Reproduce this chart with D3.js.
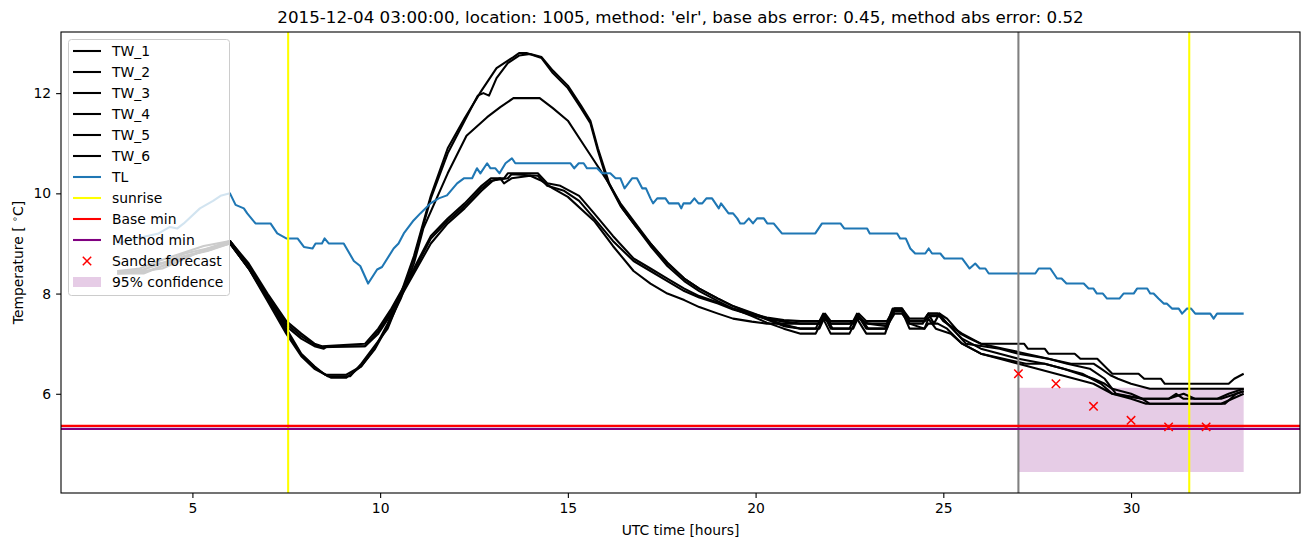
<!DOCTYPE html>
<html><head><meta charset="utf-8">
<script src="https://cdn.jsdelivr.net/npm/d3@7"></script>
<style>body{margin:0;background:#fff}svg{display:block;font-family:"DejaVu Sans",sans-serif}</style>
</head><body><svg id="c" width="1310" height="547"></svg>
<script>
const titleText = "2015-12-04 03:00:00, location: 1005, method: 'elr', base abs error: 0.45, method abs error: 0.52";
const xTicks = [5, 10, 15, 20, 25, 30];
const yTicks = [6, 8, 10, 12];
const seriesNames = ["TW_1","TW_2","TW_3","TW_4","TW_5","TW_6"];

const TW_1 = [[3.0,8.40],[3.7,8.42],[4.2,8.55],[4.8,8.75],[5.5,8.88],[6.0,9.05],[6.5,8.55],[7.0,7.95],[7.5,7.3],[7.9,6.8],[8.25,6.55],[8.5,6.40],[8.7,6.32],[9.1,6.32],[9.5,6.55],[9.85,6.9],[10.2,7.4],[10.55,8.0],[10.9,8.75],[11.35,9.95],[11.8,10.9],[12.25,11.5],[12.7,12.05],[13.1,12.5],[13.55,12.72],[13.7,12.8],[13.9,12.8],[14.3,12.7],[14.6,12.4],[15.0,12.1],[15.35,11.7],[15.6,11.4],[15.8,10.85],[16.05,10.25],[16.4,9.75],[16.75,9.4],[17.2,8.95],[17.65,8.55],[18.1,8.25],[18.5,8.05],[19.0,7.85],[19.4,7.7],[19.9,7.55],[20.3,7.42],[20.75,7.3],[21.2,7.2],[21.6,7.2],[21.8,7.5],[22.0,7.2],[22.5,7.2],[22.7,7.5],[22.95,7.2],[23.45,7.2],[23.65,7.65],[23.9,7.65],[24.1,7.3],[24.5,7.3],[24.6,7.5],[24.8,7.3],[25.2,7.2],[25.5,7.0],[26.0,6.8],[26.5,6.7],[27.0,6.6],[27.5,6.5],[28.0,6.4],[28.5,6.3],[29.0,6.2],[29.5,6.0],[30.0,5.9],[30.4,5.8],[32.4,5.8],[32.7,5.9],[33.0,6.0]];
const TW_2 = [[3.0,8.45],[3.6,8.45],[4.1,8.6],[4.7,8.7],[5.3,8.85],[6.0,9.0],[6.5,8.5],[7.0,7.9],[7.5,7.25],[7.9,6.78],[8.3,6.5],[8.6,6.35],[9.2,6.35],[9.5,6.6],[9.85,6.95],[10.2,7.3],[10.55,7.95],[10.9,8.7],[11.35,9.9],[11.8,10.8],[12.25,11.45],[12.6,11.95],[12.75,12.0],[12.9,11.95],[13.1,12.3],[13.4,12.6],[13.7,12.75],[14.0,12.78],[14.3,12.72],[14.6,12.45],[15.0,12.15],[15.35,11.75],[15.6,11.45],[15.8,10.9],[16.1,10.2],[16.45,9.7],[16.8,9.35],[17.2,9.0],[17.65,8.6],[18.1,8.3],[18.5,8.1],[19.0,7.9],[19.4,7.75],[19.9,7.6],[20.3,7.48],[20.75,7.35],[21.2,7.3],[21.6,7.3],[21.8,7.6],[22.0,7.3],[22.5,7.3],[22.7,7.6],[22.95,7.3],[23.45,7.3],[23.65,7.7],[23.9,7.7],[24.1,7.4],[24.45,7.4],[24.6,7.6],[24.75,7.4],[24.9,7.6],[25.1,7.4],[25.5,7.1],[26.0,6.9],[26.5,6.8],[27.0,6.7],[27.7,6.6],[28.2,6.5],[28.7,6.4],[29.2,6.2],[29.5,6.0],[30.3,5.9],[30.5,5.8],[32.5,5.8],[32.8,6.0],[33.0,6.05]];
const TW_3 = [[3.0,8.4],[3.7,8.45],[4.2,8.5],[4.8,8.7],[5.4,8.9],[6.0,9.0],[6.5,8.5],[7.0,7.85],[7.5,7.2],[7.9,6.75],[8.25,6.5],[8.55,6.38],[9.1,6.38],[9.5,6.55],[9.85,6.88],[10.2,7.35],[10.55,7.9],[10.9,8.6],[11.15,9.3],[11.8,10.4],[12.3,11.15],[12.85,11.52],[13.2,11.72],[13.55,11.9],[14.25,11.9],[14.6,11.7],[15.0,11.45],[15.35,11.05],[15.7,10.65],[16.05,10.25],[16.4,9.8],[16.8,9.4],[17.2,9.0],[17.65,8.62],[18.1,8.3],[18.5,8.1],[19.0,7.9],[19.4,7.75],[19.9,7.62],[20.3,7.5],[20.75,7.38],[21.2,7.3],[21.7,7.3],[21.85,7.55],[22.05,7.3],[22.6,7.3],[22.75,7.55],[23.0,7.3],[23.5,7.3],[23.7,7.7],[23.9,7.7],[24.1,7.45],[24.5,7.45],[24.6,7.6],[24.85,7.6],[25.0,7.45],[25.5,7.2],[26.0,7.0],[26.6,6.9],[27.2,6.8],[27.8,6.7],[28.3,6.6],[28.9,6.5],[29.3,6.3],[29.6,6.0],[30.3,5.9],[31.0,5.9],[31.4,6.0],[31.7,5.9],[32.3,5.9],[32.6,6.0],[33.0,6.1]];
const TW_4 = [[3.0,8.42],[3.7,8.48],[4.2,8.6],[4.8,8.8],[5.4,8.9],[6.0,9.05],[6.5,8.6],[7.0,8.0],[7.5,7.45],[7.9,7.2],[8.25,7.0],[8.45,6.95],[9.6,7.0],[9.95,7.3],[10.3,7.7],[10.9,8.5],[11.35,9.15],[11.8,9.5],[12.25,9.8],[12.7,10.15],[12.95,10.3],[13.3,10.3],[13.4,10.4],[14.2,10.4],[14.45,10.2],[14.8,10.15],[15.3,9.95],[15.7,9.6],[16.2,9.15],[16.75,8.7],[17.2,8.5],[17.65,8.3],[18.1,8.1],[18.5,7.95],[19.0,7.82],[19.4,7.7],[19.9,7.6],[20.3,7.52],[20.75,7.47],[21.2,7.45],[21.7,7.45],[21.85,7.6],[22.0,7.45],[22.6,7.45],[22.75,7.6],[22.95,7.45],[23.5,7.45],[23.7,7.7],[23.9,7.7],[24.1,7.5],[24.5,7.5],[24.6,7.6],[24.9,7.6],[25.1,7.5],[25.45,7.2],[25.7,7.1],[26.0,7.0],[27.15,7.0],[27.25,6.9],[27.7,6.9],[27.8,6.8],[28.5,6.8],[28.65,6.7],[29.1,6.7],[29.5,6.4],[30.2,6.4],[30.35,6.3],[30.8,6.3],[30.9,6.2],[32.6,6.2],[32.75,6.3],[33.0,6.4]];
const TW_5 = [[3.0,8.45],[3.6,8.5],[4.1,8.65],[4.7,8.8],[5.3,8.95],[6.0,9.05],[6.5,8.55],[7.0,7.95],[7.5,7.4],[7.9,7.15],[8.25,6.98],[8.45,6.93],[9.6,6.95],[9.95,7.25],[10.3,7.65],[10.9,8.45],[11.35,9.1],[11.8,9.45],[12.25,9.75],[12.7,10.1],[12.95,10.25],[13.4,10.3],[13.5,10.38],[14.2,10.35],[14.45,10.15],[14.9,10.05],[15.3,9.85],[15.7,9.5],[16.2,9.05],[16.75,8.65],[17.2,8.45],[17.65,8.25],[18.1,8.05],[18.5,7.92],[19.0,7.8],[19.4,7.68],[19.9,7.57],[20.3,7.5],[20.75,7.44],[21.2,7.4],[21.7,7.4],[21.85,7.55],[22.0,7.4],[22.6,7.4],[22.75,7.55],[22.95,7.4],[23.5,7.4],[23.7,7.65],[23.9,7.65],[24.1,7.45],[24.5,7.45],[24.65,7.55],[24.9,7.55],[25.2,7.34],[25.6,7.0],[26.5,6.9],[27.0,6.8],[27.8,6.7],[28.4,6.6],[29.0,6.6],[29.2,6.5],[29.45,6.37],[29.65,6.3],[30.0,6.2],[30.5,6.1],[33.0,6.1]];
const TW_6 = [[3.0,8.4],[3.7,8.4],[4.2,8.55],[4.8,8.75],[5.4,8.85],[6.0,9.0],[6.5,8.5],[7.0,7.9],[7.5,7.35],[7.9,7.1],[8.25,6.95],[8.5,6.9],[8.6,6.95],[9.6,6.95],[9.95,7.2],[10.3,7.6],[10.9,8.4],[11.35,9.0],[11.8,9.4],[12.25,9.7],[12.7,10.05],[13.0,10.25],[13.2,10.3],[13.3,10.2],[13.5,10.3],[14.0,10.35],[14.3,10.25],[14.6,10.1],[15.0,9.93],[15.7,9.45],[16.2,8.95],[16.75,8.45],[17.2,8.2],[17.65,8.0],[18.1,7.87],[18.5,7.73],[19.0,7.6],[19.4,7.5],[19.9,7.44],[20.3,7.4],[21.2,7.4],[21.7,7.4],[21.85,7.5],[22.0,7.4],[22.5,7.4],[22.75,7.5],[23.0,7.4],[23.5,7.35],[23.7,7.6],[23.9,7.6],[24.1,7.4],[24.5,7.3],[24.6,7.4],[24.85,7.4],[25.1,7.3],[25.5,7.0],[26.0,6.8],[26.6,6.7],[27.2,6.6],[27.7,6.6],[28.2,6.5],[28.6,6.4],[29.0,6.3],[29.3,6.2],[29.5,6.1],[30.0,6.0],[30.3,5.9],[31.0,5.9],[31.2,6.0],[31.4,5.9],[32.4,5.9],[32.8,6.0],[33.0,6.05]];
const TL = [[3.0,9.0],[3.5,9.1],[4.1,9.2],[4.4,9.33],[4.6,9.3],[4.77,9.4],[5.2,9.7],[5.55,9.85],[5.75,9.95],[6.0,10.0],[6.15,9.77],[6.37,9.7],[6.46,9.6],[6.68,9.4],[7.08,9.4],[7.26,9.2],[7.5,9.1],[7.8,9.1],[7.97,8.93],[8.2,8.9],[8.28,9.0],[8.45,9.0],[8.52,9.1],[8.63,9.0],[9.03,9.0],[9.3,8.65],[9.47,8.55],[9.68,8.2],[9.92,8.48],[10.05,8.53],[10.36,8.9],[10.49,9.0],[10.63,9.2],[10.89,9.46],[11.07,9.6],[11.34,9.8],[11.56,9.9],[11.78,9.96],[12.05,10.2],[12.23,10.3],[12.45,10.3],[12.58,10.5],[12.67,10.4],[12.85,10.6],[12.94,10.5],[13.07,10.5],[13.18,10.4],[13.34,10.6],[13.51,10.7],[13.6,10.6],[15.07,10.6],[15.17,10.5],[15.29,10.6],[15.42,10.6],[15.51,10.5],[15.78,10.5],[15.91,10.4],[16.13,10.4],[16.27,10.3],[16.4,10.3],[16.51,10.1],[16.71,10.3],[16.84,10.3],[16.98,10.1],[17.08,10.1],[17.2,9.9],[17.27,9.8],[17.38,9.9],[17.6,9.9],[17.69,9.8],[17.95,9.8],[18.02,9.7],[18.08,9.8],[18.26,9.8],[18.37,9.9],[18.48,9.8],[18.58,9.8],[18.69,9.9],[18.84,9.9],[19.02,9.7],[19.08,9.8],[19.28,9.6],[19.4,9.6],[19.51,9.5],[19.59,9.4],[19.7,9.4],[19.82,9.5],[19.93,9.4],[20.04,9.5],[20.22,9.5],[20.31,9.4],[20.48,9.4],[20.7,9.2],[21.59,9.2],[21.77,9.4],[22.26,9.4],[22.36,9.3],[22.97,9.3],[23.04,9.2],[23.77,9.2],[23.85,9.1],[24.0,9.1],[24.12,8.9],[24.25,8.8],[24.52,8.8],[24.61,8.9],[24.7,8.8],[24.92,8.8],[25.03,8.7],[25.5,8.7],[25.7,8.5],[25.85,8.6],[25.97,8.5],[26.12,8.5],[26.21,8.4],[27.45,8.4],[27.54,8.5],[27.85,8.5],[28.03,8.3],[28.15,8.3],[28.28,8.2],[28.74,8.2],[28.87,8.1],[29.0,8.1],[29.09,8.0],[29.25,8.0],[29.36,7.9],[29.69,7.9],[29.8,8.0],[30.07,8.0],[30.16,8.1],[30.43,8.1],[30.51,8.0],[30.6,8.0],[30.73,7.9],[30.87,7.8],[30.95,7.8],[31.09,7.7],[31.27,7.7],[31.36,7.6],[31.49,7.7],[31.6,7.7],[31.71,7.6],[32.11,7.6],[32.2,7.5],[32.29,7.6],[33.0,7.6]];
const sunriseTimes = [7.55, 31.55];
const forecastStart = 27.0;
const baseMin = 5.36;
const methodMin = 5.30;
const sanderT = [27, 28, 29, 30, 31, 32];
const sanderV = [6.40, 6.20, 5.75, 5.47, 5.34, 5.34];
const confT = [27.0, 33.0];
const confLow = [4.44, 4.44];
const confHigh = [6.12, 6.12];
const legendLabels = ["TW_1","TW_2","TW_3","TW_4","TW_5","TW_6","TL","sunrise","Base min","Method min","Sander forecast","95% confidence"];

const TWs = [TW_1, TW_2, TW_3, TW_4, TW_5, TW_6];
const svg = d3.select("#c");
const L = 61, R = 1300, T = 32, B = 493;
const x = d3.scaleLinear().domain([1.5, 34.5]).range([L, R]);
const y = d3.scaleLinear().domain([4.02, 13.22]).range([B, T]);
const lw = 2.08;

svg.append("clipPath").attr("id","clip").append("rect").attr("x",L).attr("y",T).attr("width",R-L).attr("height",B-T);
const g = svg.append("g").attr("clip-path","url(#clip)");

// confidence band
const area = d3.area().x((d,i)=>x(confT[i])).y0((d,i)=>y(confLow[i])).y1((d,i)=>y(confHigh[i]));
g.append("path").attr("d", area(confT)).attr("fill","purple").attr("fill-opacity",0.2);

const line = d3.line().x(d=>x(d[0])).y(d=>y(d[1]));
TWs.forEach(s => g.append("path").attr("d", line(s)).attr("fill","none").attr("stroke","black").attr("stroke-width",lw).attr("stroke-linejoin","round"));
g.append("path").attr("d", line(TL)).attr("fill","none").attr("stroke","#1f77b4").attr("stroke-width",lw).attr("stroke-linejoin","round");

sunriseTimes.forEach(t => g.append("line").attr("x1",x(t)).attr("x2",x(t)).attr("y1",T).attr("y2",B).attr("stroke","yellow").attr("stroke-width",lw));
g.append("line").attr("x1",x(forecastStart)).attr("x2",x(forecastStart)).attr("y1",T).attr("y2",B).attr("stroke","grey").attr("stroke-width",lw);
g.append("line").attr("x1",L).attr("x2",R).attr("y1",y(baseMin)).attr("y2",y(baseMin)).attr("stroke","red").attr("stroke-width",lw);
g.append("line").attr("x1",L).attr("x2",R).attr("y1",y(methodMin)).attr("y2",y(methodMin)).attr("stroke","purple").attr("stroke-width",lw);

const ms = 4.2;
sanderT.forEach((t,i) => {
  const cx = x(t), cy = y(sanderV[i]);
  g.append("path").attr("d",`M${cx-ms},${cy-ms}L${cx+ms},${cy+ms}M${cx-ms},${cy+ms}L${cx+ms},${cy-ms}`).attr("stroke","red").attr("stroke-width",1.5);
});

// axes
const xa = svg.append("g").attr("transform",`translate(0,${B})`).call(d3.axisBottom(x).tickValues(xTicks).tickSize(4.9).tickPadding(4.9));
const ya = svg.append("g").attr("transform",`translate(${L},0)`).call(d3.axisLeft(y).tickValues(yTicks).tickSize(4.9).tickPadding(4.9));
[xa, ya].forEach(a => {
  a.select(".domain").remove();
  a.selectAll("line").attr("stroke","black").attr("stroke-width",1.1);
  a.selectAll("text").attr("font-size","13.9px").attr("font-family","DejaVu Sans").attr("fill","black");
});
svg.append("rect").attr("x",L).attr("y",T).attr("width",R-L).attr("height",B-T).attr("fill","none").attr("stroke","black").attr("stroke-width",1.1);

svg.append("text").attr("x",(L+R)/2).attr("y",23).attr("text-anchor","middle").attr("font-size","16.7px").text(titleText);
svg.append("text").attr("x",(L+R)/2).attr("y",535).attr("text-anchor","middle").attr("font-size","13.9px").text("UTC time [hours]");
const yl = svg.append("text").attr("transform",`translate(23,${(T+B)/2}) rotate(-90)`).attr("text-anchor","middle").attr("font-size","13.9px");
yl.append("tspan").text("Temperature [ ");
yl.append("tspan").attr("dy",-5).attr("font-size","9.7px").text("∘");
yl.append("tspan").attr("dy",5).text("C]");

// legend
const lg = svg.append("g");
lg.append("rect").attr("x",68.5).attr("y",39.5).attr("width",161).attr("height",256).attr("rx",3).attr("fill","white").attr("fill-opacity",0.8).attr("stroke","#cccccc").attr("stroke-width",1);
const styles = [
  {t:"line",c:"black"},{t:"line",c:"black"},{t:"line",c:"black"},{t:"line",c:"black"},{t:"line",c:"black"},{t:"line",c:"black"},
  {t:"line",c:"#1f77b4"},{t:"line",c:"yellow"},{t:"line",c:"red"},{t:"line",c:"purple"},{t:"x",c:"red"},{t:"patch",c:"purple"}];
legendLabels.forEach((lab,i) => {
  const yy = 51 + i*21.0;
  const s = styles[i];
  if (s.t==="line") lg.append("line").attr("x1",73).attr("x2",101).attr("y1",yy).attr("y2",yy).attr("stroke",s.c).attr("stroke-width",lw);
  else if (s.t==="x") lg.append("path").attr("d",`M${87-ms},${yy-ms}L${87+ms},${yy+ms}M${87-ms},${yy+ms}L${87+ms},${yy-ms}`).attr("stroke",s.c).attr("stroke-width",1.5);
  else lg.append("rect").attr("x",73).attr("y",yy-5).attr("width",28).attr("height",10).attr("fill",s.c).attr("fill-opacity",0.2);
  lg.append("text").attr("x",112).attr("y",yy+5).attr("font-size","13.9px").text(lab);
});
</script></body></html>
